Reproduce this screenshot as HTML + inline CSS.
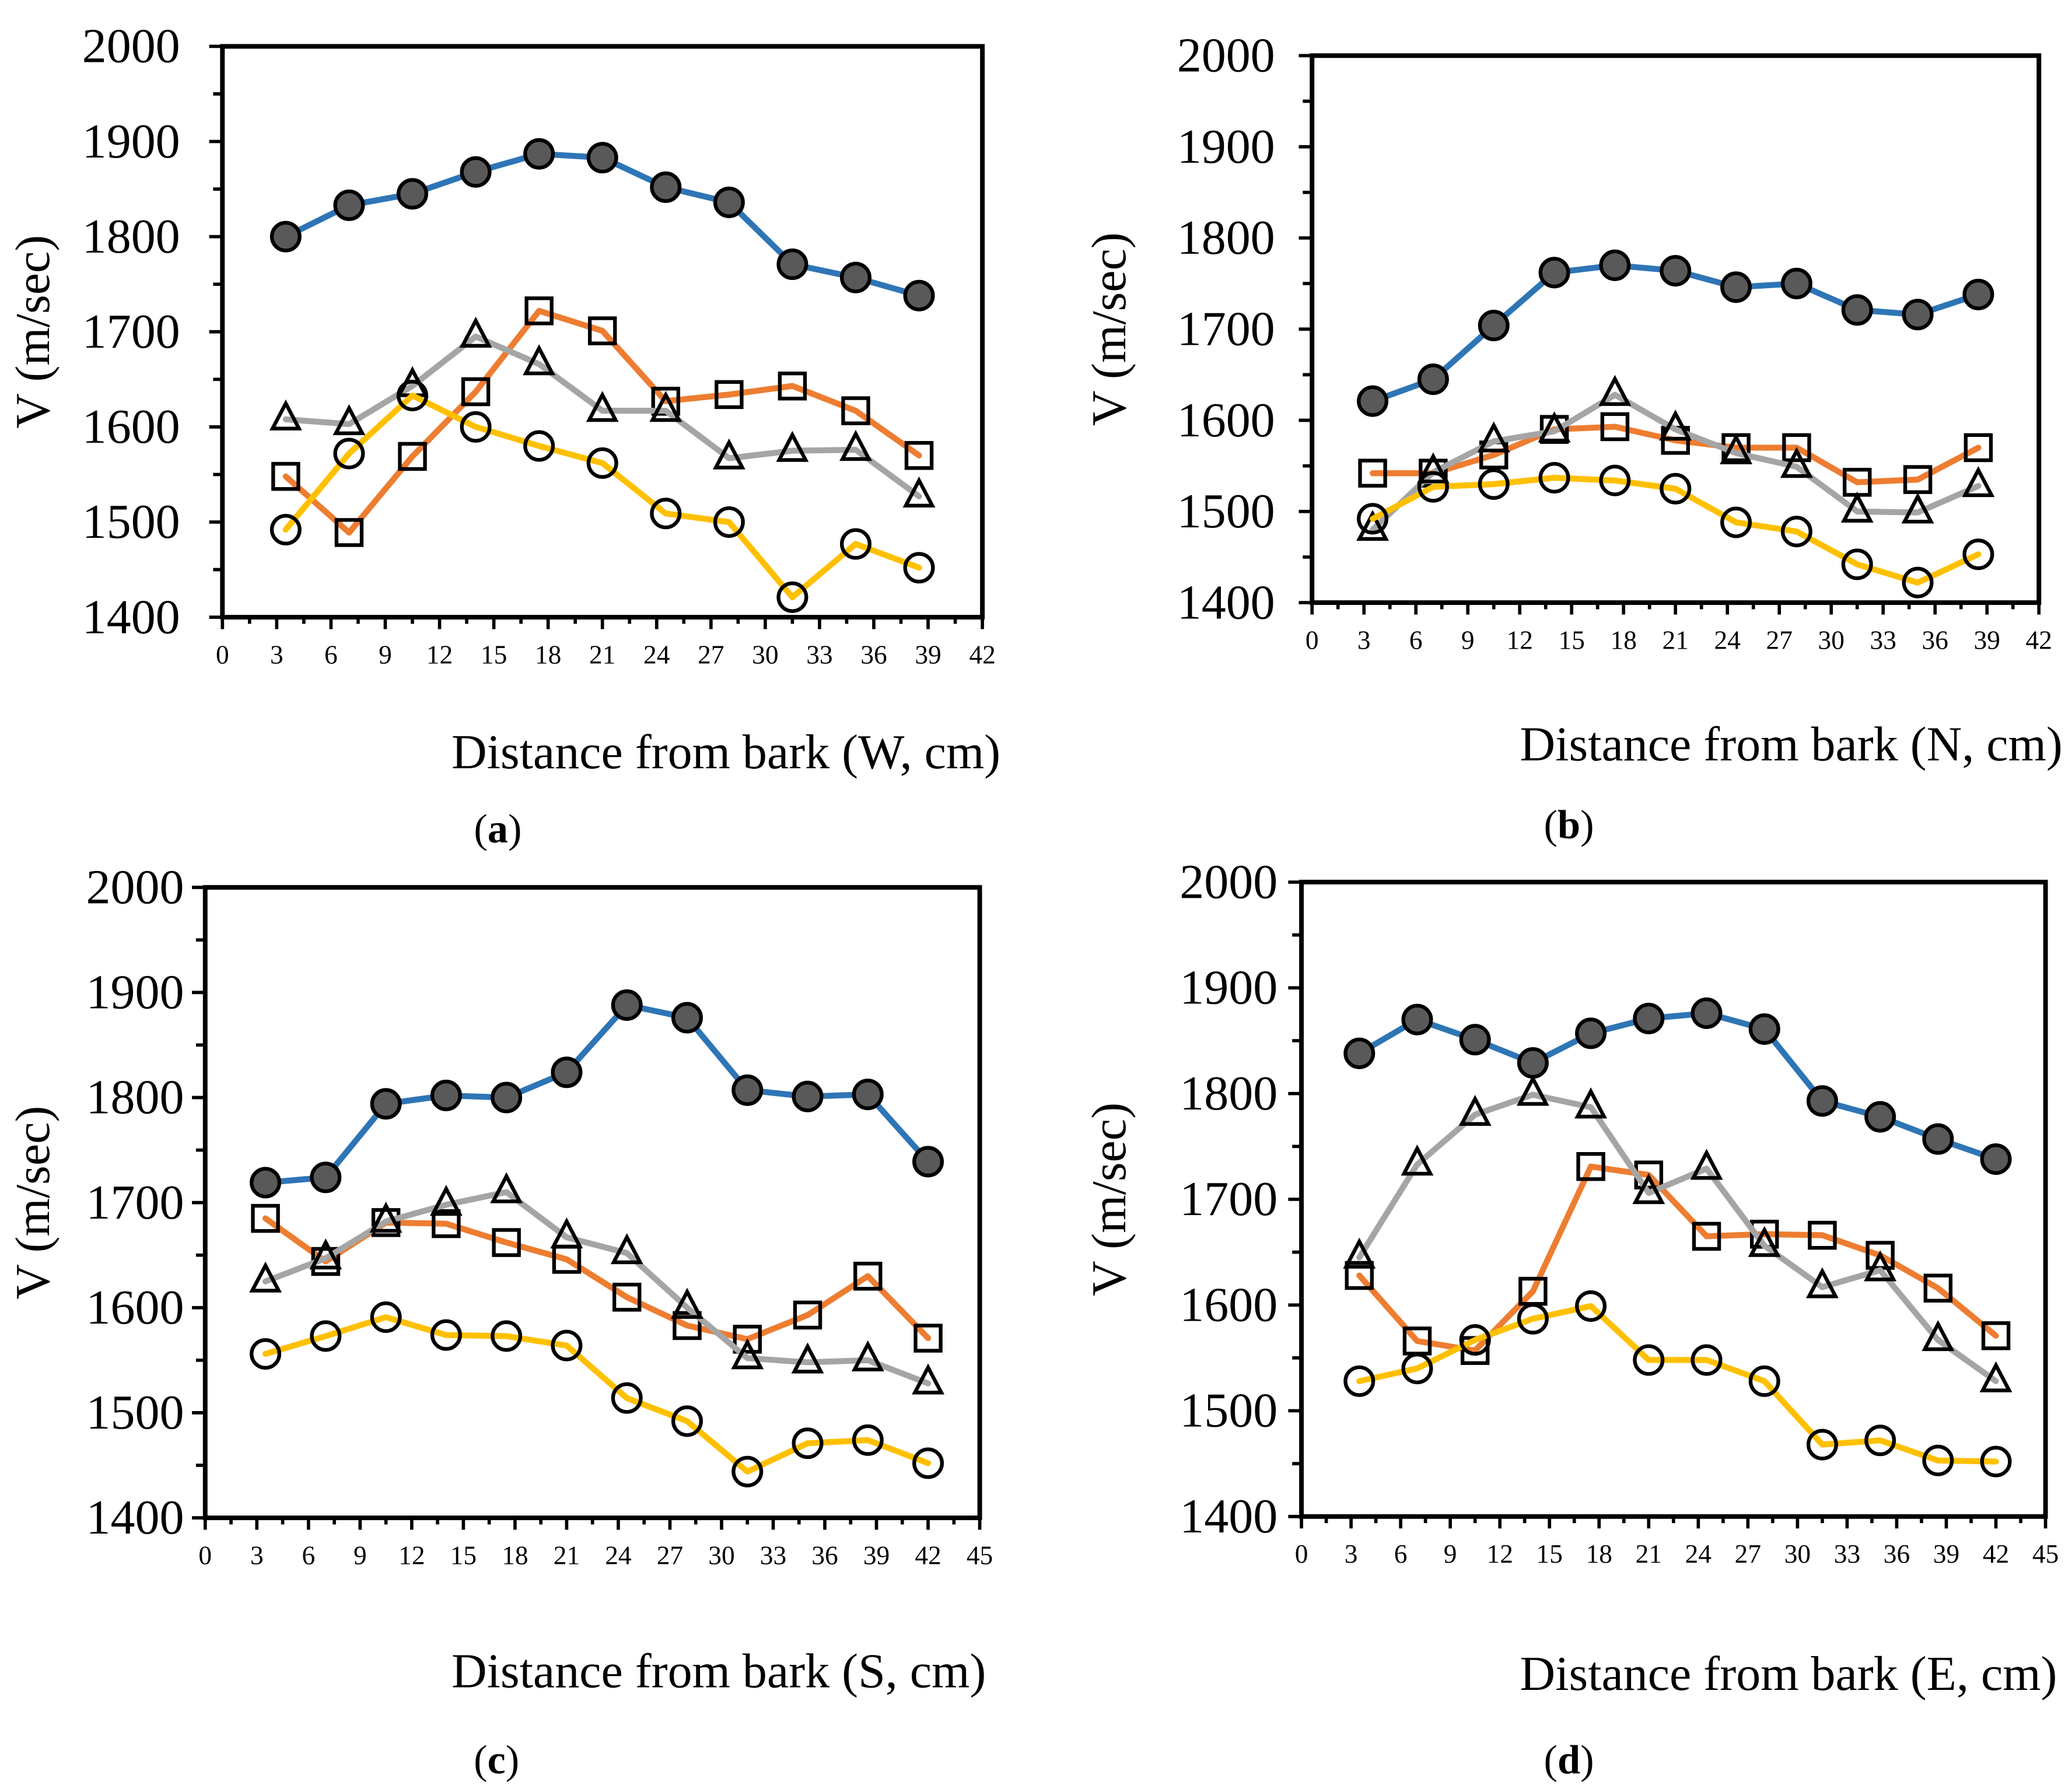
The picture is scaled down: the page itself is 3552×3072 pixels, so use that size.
<!DOCTYPE html>
<html><head><meta charset="utf-8"><style>
html,body{margin:0;padding:0;background:#fff}
svg{display:block}
text{font-family:"Liberation Serif",serif;fill:#000}
</style></head><body>
<svg id="fig" width="3552" height="3072" viewBox="0 0 1565 1353" preserveAspectRatio="none" xmlns="http://www.w3.org/2000/svg"></svg>
<script>
// Data arrays
const xA = [3.5,7,10.5,14,17.5,21,24.5,28,31.5,35,38.5];
const xC = [3.5,7,10.5,14,17.5,21,24.5,28,31.5,35,38.5,42];
const yTicks = [1400,1500,1600,1700,1800,1900,2000];
const aBlue = [1800,1833,1845,1868,1887,1883,1852,1836,1771,1757,1738];
const aOrange = [1548,1489,1569,1637,1722,1701,1627,1634,1643,1617,1570];
const aGray = [1608,1603,1643,1695,1666,1617,1617,1567,1575,1576,1527];
const aYellow = [1492,1572,1633,1600,1580,1562,1509,1500,1421,1477,1452];
const bBlue = [1621,1645,1704,1762,1770,1764,1746,1750,1721,1716,1738];
const bOrange = [1542,1542,1562,1590,1593,1578,1570,1570,1532,1535,1570];
const bGray = [1480,1543,1577,1588,1628,1590,1564,1549,1500,1499,1528];
const bYellow = [1492,1527,1530,1537,1534,1525,1488,1478,1442,1422,1453];
const cBlue = [1719,1724,1794,1802,1800,1824,1888,1876,1807,1801,1803,1739];
const cOrange = [1685,1644,1681,1680,1662,1646,1610,1583,1570,1593,1630,1571];
const cGray = [1625,1647,1682,1698,1710,1667,1652,1600,1552,1548,1550,1528];
const cYellow = [1556,1573,1591,1574,1573,1564,1514,1492,1444,1471,1474,1452];
const dBlue = [1838,1870,1851,1829,1857,1871,1876,1861,1793,1778,1757,1738];
const dOrange = [1628,1566,1557,1613,1731,1723,1665,1667,1666,1647,1616,1571];
const dGray = [1645,1733,1780,1799,1787,1706,1729,1656,1617,1633,1567,1528];
const dYellow = [1528,1540,1567,1587,1599,1548,1548,1528,1468,1472,1453,1452];

const NS="http://www.w3.org/2000/svg";
const svg=document.getElementById('fig');
function mk(tag,attrs,parent){const e=document.createElementNS(NS,tag);for(const k in attrs)e.setAttribute(k,attrs[k]);(parent||svg).appendChild(e);return e;}

const panels=[
 {id:'a',L:168,R:742,T:35,B:466,xmax:42,xs:xA,series:[aBlue,aOrange,aGray,aYellow],title:'Distance from bark (W, cm)',tx:341,ty:580,lx:376,ly:636,ytx:25,ylabR:136},
 {id:'b',L:991,R:1540,T:42,B:455,xmax:42,xs:xA,series:[bBlue,bOrange,bGray,bYellow],title:'Distance from bark (N, cm)',tx:1148,ty:574,lx:1185,ly:633,ytx:838,ylabR:963},
 {id:'c',L:155,R:740,T:670,B:1146,xmax:45,xs:xC,series:[cBlue,cOrange,cGray,cYellow],title:'Distance from bark (S, cm)',tx:341,ty:1274,lx:375,ly:1339,ytx:25,ylabR:139},
 {id:'d',L:983,R:1545,T:666,B:1145,xmax:45,xs:xC,series:[dBlue,dOrange,dGray,dYellow],title:'Distance from bark (E, cm)',tx:1148,ty:1276,lx:1185,ly:1339,ytx:838,ylabR:965}
];
const colors=['#2e75b6','#ed7d31','#a5a5a5','#ffc000'];
const names=['blue','orange','gray','yellow'];
const markers=['filled-circle','square','triangle','open-circle'];

panels.forEach(p=>{
 const g=mk('g',{});
 
 
 const X=v=>p.L+(v/p.xmax)*(p.R-p.L);
 const Y=v=>p.B-(v-1400)/600*(p.B-p.T);
 for(let v=1400;v<=2000;v+=50){
  const major=v%100===0;
  const t=mk('line',{x1:p.L-(major?10:7),x2:p.L,y1:Y(v),y2:Y(v),stroke:'#000','stroke-width':2.5},g);
  
  
 }
 yTicks.forEach(v=>{
  const t=mk('text',{x:p.ylabR,y:Y(v)+12,'text-anchor':'end','font-size':37},g);
  t.textContent=v;
  
  
 });
 for(let v=0;v<=p.xmax+0.01;v+=1.5){
  const major=Math.abs(v%3)<0.01;
  const t=mk('line',{x1:X(v),x2:X(v),y1:p.B,y2:p.B+(major?9:5),stroke:'#000','stroke-width':2.5},g);
  
  
  if(major){
   const l=mk('text',{x:X(v),y:p.B+35,'text-anchor':'middle','font-size':20},g);
   l.textContent=Math.round(v);
   
   
  }
 }
 p.series.forEach((arr,si)=>{
  const sg=mk('g',{},g);
  
  
  const pts=arr.map((v,i)=>X(p.xs[i]).toFixed(1)+','+Y(v).toFixed(1)).join(' ');
  const pl=mk('polyline',{points:pts,fill:'none',stroke:colors[si],'stroke-width':4.5,'stroke-linejoin':'round','stroke-linecap':'round'},sg);
  
  
  arr.forEach((v,i)=>{
   const cx=X(p.xs[i]),cy=Y(v);let m;
   if(si===0) m=mk('circle',{cx:cx,cy:cy,r:10.5,fill:'#595959',stroke:'#000','stroke-width':2.8},sg);
   else if(si===1) m=mk('rect',{x:cx-9.5,y:cy-9.5,width:19,height:19,fill:'none',stroke:'#000','stroke-width':2.8},sg);
   else if(si===2) m=mk('polygon',{points:`${cx},${cy-12} ${cx-10},${cy+7} ${cx+10},${cy+7}`,fill:'none',stroke:'#000','stroke-width':2.8},sg);
   else m=mk('circle',{cx:cx,cy:cy,r:10.5,fill:'none',stroke:'#000','stroke-width':2.8},sg);
   
   
  });
 });
 const fr=mk('rect',{x:p.L,y:p.T,width:p.R-p.L,height:p.B-p.T,fill:'none',stroke:'#000','stroke-width':3.5},g);
 
 
 const xt=mk('text',{x:p.tx,y:p.ty,'font-size':37},g);
 xt.textContent=p.title;
 
 
 const yt=mk('text',{x:0,y:0,'font-size':37,'text-anchor':'middle',transform:`translate(${p.ytx+12},${(p.T+p.B)/2}) rotate(-90)`},g);
 yt.textContent='V (m/sec)';
 
 
 const lb=mk('text',{x:p.lx,y:p.ly,'font-size':31,'text-anchor':'middle'},g);
 lb.innerHTML='(<tspan font-weight="bold">'+p.id+'</tspan>)';
 
 
});
</script>
</body></html>
